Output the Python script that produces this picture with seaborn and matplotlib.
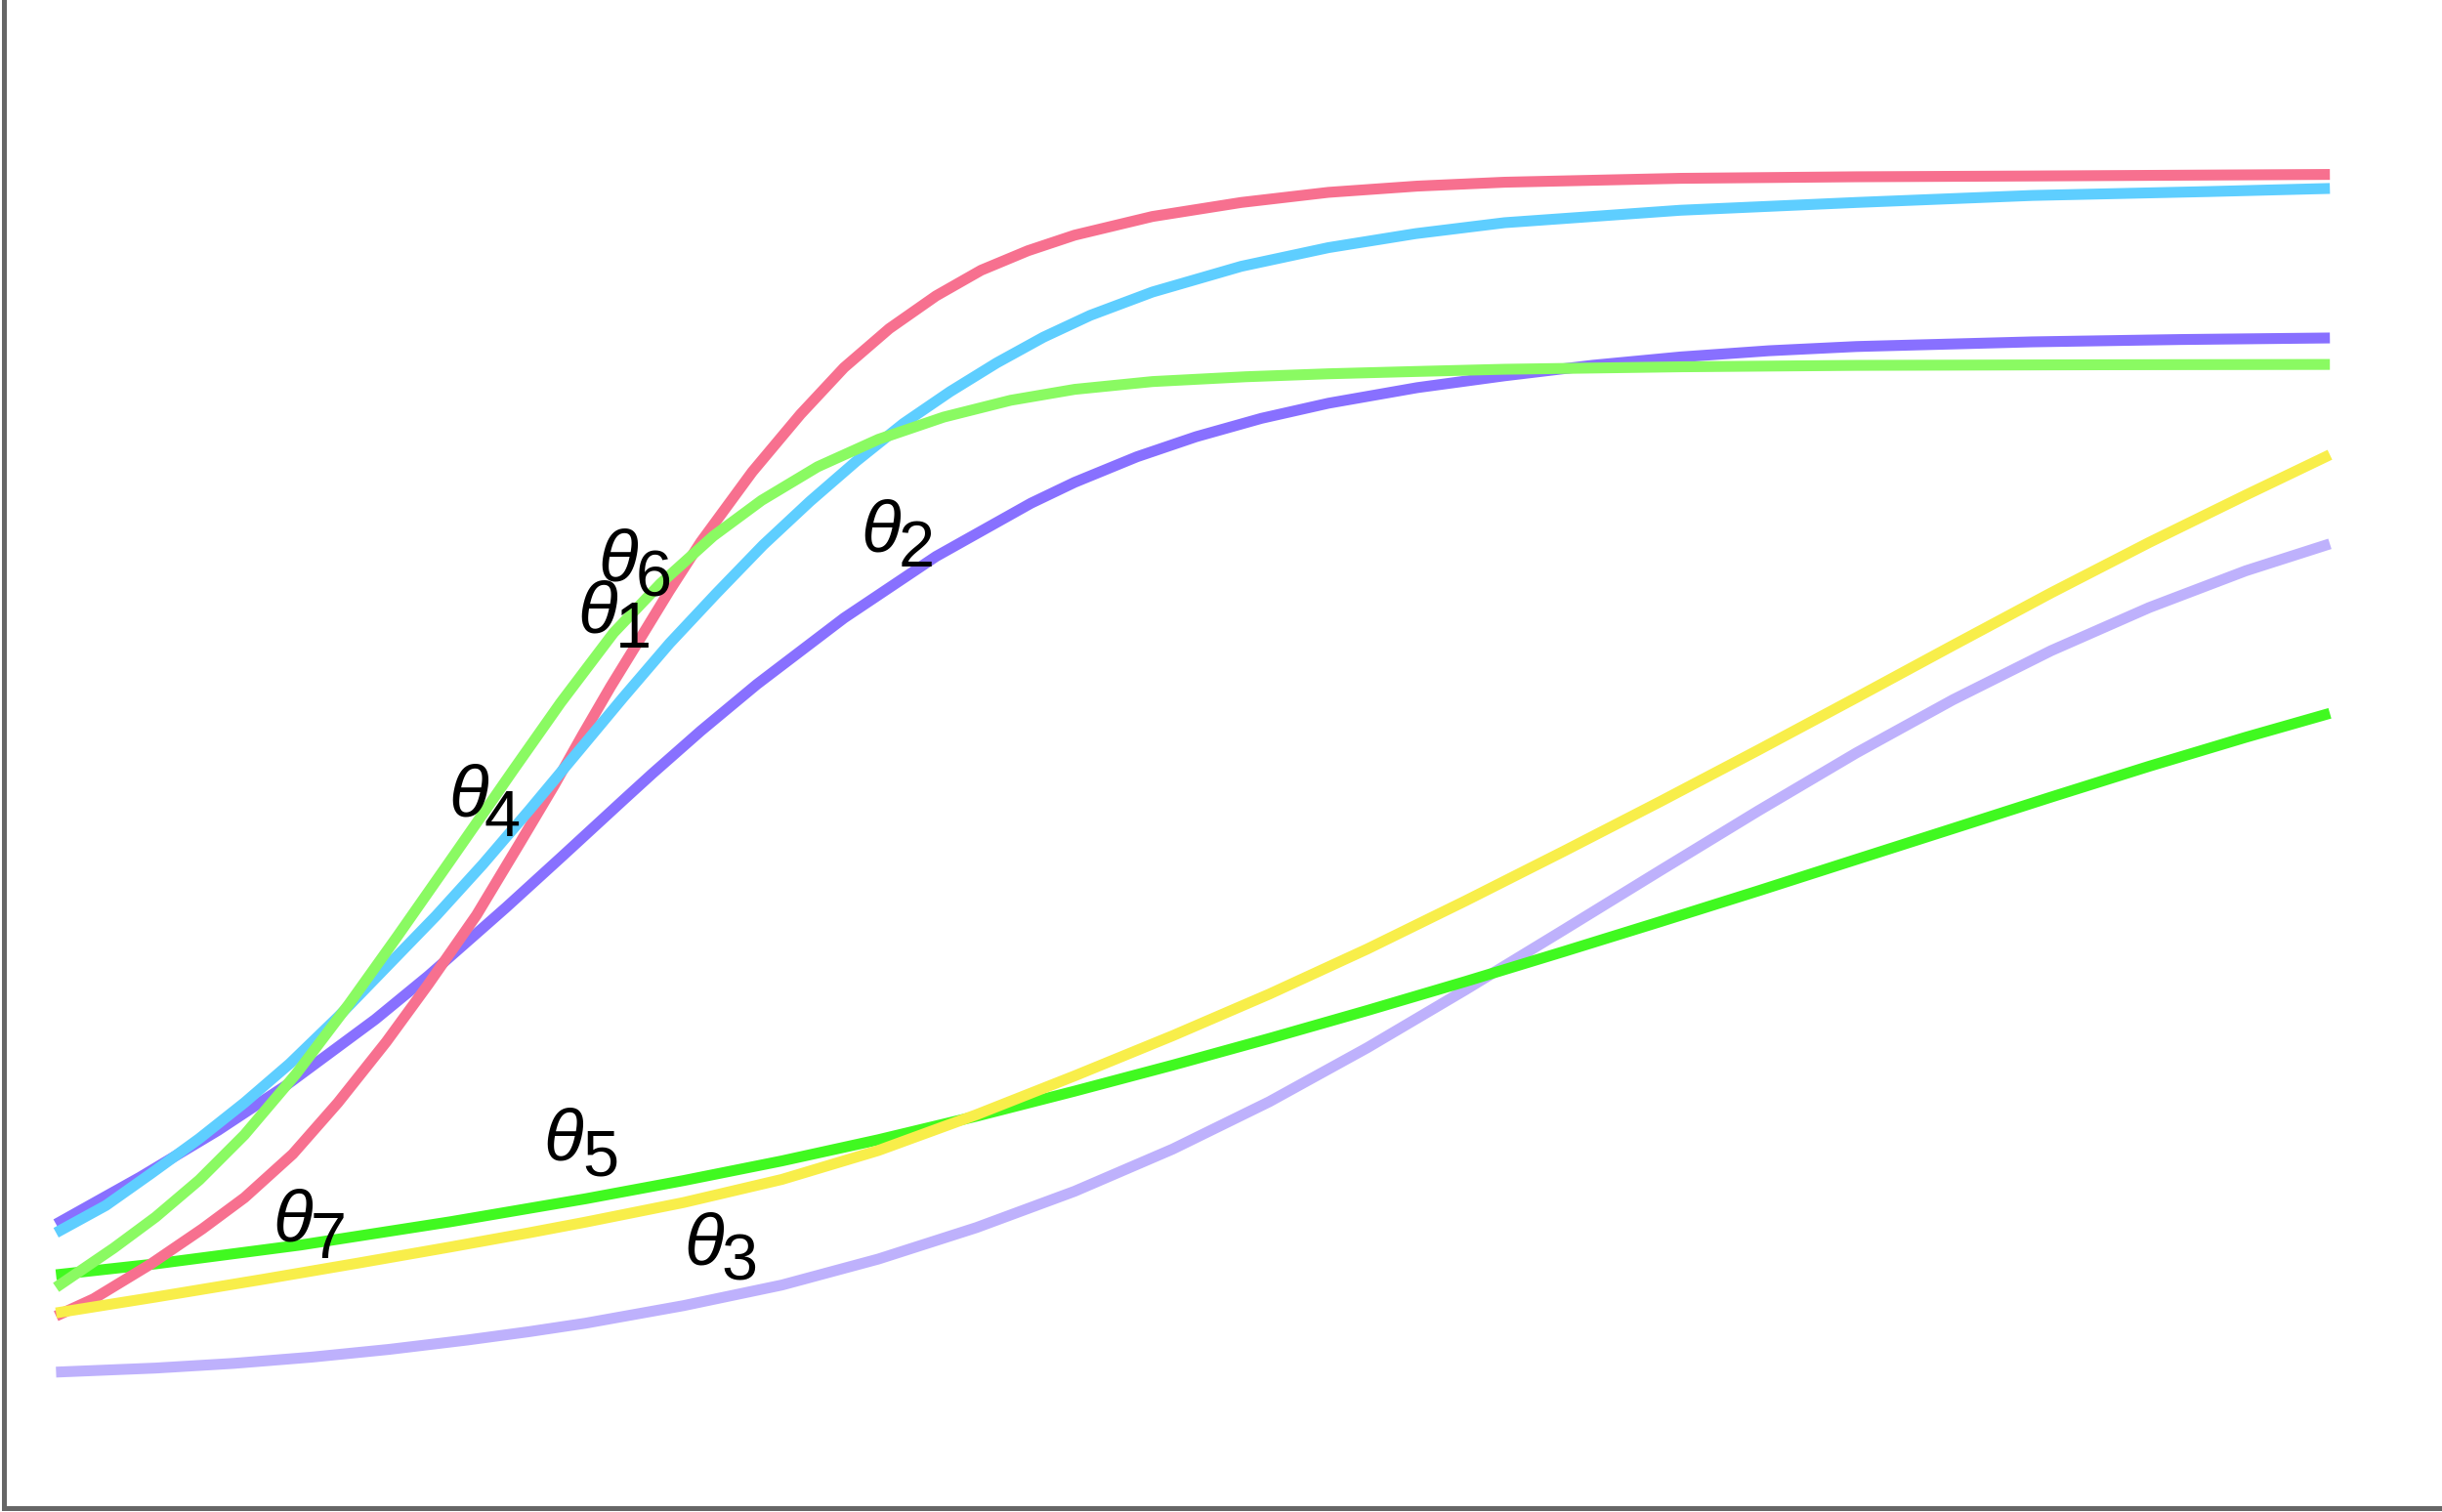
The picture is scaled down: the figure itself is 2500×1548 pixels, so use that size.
import matplotlib
matplotlib.use("Agg")
import matplotlib.pyplot as plt
import seaborn as sns
import pandas as pd

# ---- data (arbitrary units; x = horizontal position, y = height) ----
x1 = [36, 60, 97, 130, 157, 188, 217, 248, 275, 306, 334, 356, 374, 392, 408, 430, 450,
      483, 514, 542, 571, 601, 630, 660, 690, 740, 797, 853, 910, 966, 1079, 1192, 1305, 1400, 1496]
theta1 = [123, 134, 156.5, 179, 199, 227, 260, 299, 336, 380.5, 427, 464, 496, 527, 553, 589, 620,
          665, 702, 732, 757, 778, 794.5, 807, 817, 829, 838, 844.5, 848.5, 851, 853.5, 854.5, 855, 855.5, 856]

x2 = [36, 90, 140, 183, 241, 275, 325, 361, 401, 419, 450, 486, 542, 601, 662, 690, 730, 768,
      810, 853, 910, 966, 1023, 1079, 1136, 1192, 1305, 1400, 1496]
theta2 = [182, 212.2, 242.2, 270.6, 313.5, 341.4, 385.4, 418.2, 455, 471.4, 498.7, 528.6, 571.2, 610.7,
          644.9, 658.3, 674.7, 687.6, 699.4, 709.1, 719.1, 726.7, 733.5, 738.8, 742.8, 745.5, 748.5, 750, 751]

x3 = [36, 100, 150, 200, 250, 300, 340, 376, 439, 502, 564, 627, 690, 753, 815, 878, 941,
      1004, 1066, 1129, 1192, 1254, 1317, 1380, 1442, 1496]
theta3 = [87, 89.6, 92.6, 96.6, 101.6, 107.6, 113, 118.4, 129.7, 142.9, 159.6, 179.8, 203.1, 230.2,
          260.6, 295.3, 332.5, 370.9, 409, 447.4, 484.6, 518.7, 550.2, 577.9, 601.5, 618.8]

x4 = [36, 73, 100, 128, 157, 190, 224, 255, 289, 300, 330, 360, 394, 424, 458, 489, 525, 564,
      606, 649, 690, 740, 800, 853, 910, 966, 1080, 1192, 1350, 1496]
theta4 = [141.4, 166.6, 186.6, 210.4, 239.4, 278.3, 323.2, 366.6, 415.2, 431, 474.2, 516.8, 561.7,
          593.2, 623.8, 646.7, 668.3, 685.9, 700.2, 711, 718, 723, 726.1, 728, 729.5, 730.9, 732.5,
          733.4, 733.8, 734]

x5 = [36, 100, 193, 289, 376, 439, 502, 564, 627, 690, 753, 815, 878, 941, 1004, 1066, 1129,
      1192, 1254, 1317, 1380, 1442, 1496]
theta5 = [149.5, 156.5, 168.6, 183.5, 198.3, 210, 222.6, 236.2, 251.3, 267.4, 284.1, 301.2, 319.2,
          337.8, 357, 376.2, 396, 416.2, 436, 456.2, 476, 494.6, 510]

x6 = [36, 68, 97, 128, 157, 186, 217, 248, 280, 310, 340, 370, 400, 430, 460, 490, 520, 550,
      580, 610, 640, 670, 700, 740, 797, 853, 909, 966, 1079, 1192, 1305, 1418, 1496]
theta6 = [176.5, 194, 214.5, 237, 260, 285, 315, 347, 380, 413, 448, 484, 520, 555, 587, 618, 646,
          672, 696, 716.5, 735, 751.5, 765.5, 780.5, 797, 809, 818, 825, 833, 838, 842.5, 845, 847]

x7 = [36, 100, 169, 230, 289, 340, 376, 439, 502, 564, 627, 690, 753, 815, 878, 941, 1004,
      1066, 1129, 1192, 1254, 1317, 1380, 1442, 1496]
theta7 = [125, 135.2, 146.6, 157, 167.3, 176.5, 183.3, 195.9, 210.7, 229.3, 252.3, 277.2, 303,
          329.7, 358.7, 389.6, 421.4, 453.3, 486.4, 520.1, 553.6, 587.3, 619.7, 650.1, 676]

series = {"θ1": (x1, theta1), "θ2": (x2, theta2), "θ3": (x3, theta3), "θ4": (x4, theta4),
          "θ5": (x5, theta5), "θ6": (x6, theta6), "θ7": (x7, theta7)}
colors = {"θ1": "#F7708F", "θ2": "#8870FF", "θ3": "#BEB1FC", "θ4": "#8AFA62",
          "θ5": "#40F920", "θ6": "#5ECEFF", "θ7": "#F8EE4A"}
draw_order = ["θ3", "θ5", "θ2", "θ1", "θ7", "θ6", "θ4"]

# curve labels: subscript digit, theta anchor (left, baseline), digit anchor (left, baseline)
label_names = ["6", "1", "2", "4", "5", "7", "3"]
label_theta_x = [384, 371, 553, 288, 349, 175, 439]
label_theta_y = [595, 562, 614, 444, 223, 171, 156]
label_sub_x = [408, 395, 577, 311, 374, 199, 463]
label_sub_y = [585, 552, 604, 431, 213, 160, 146]

rows = []
for name in draw_order:
    xs, ys = series[name]
    for xv, yv in zip(xs, ys):
        rows.append({"x": xv, "y": yv, "curve": name})
df = pd.DataFrame(rows)

sns.set_style("white")
plt.rcParams["font.family"] = ["Liberation Sans", "DejaVu Sans"]

fig = plt.figure(figsize=(25, 15.48), dpi=100)
ax = fig.add_axes([3.5 / 2500, 4.5 / 1548, 1 - 3.5 / 2500, 1 - 4.5 / 1548])

sns.lineplot(data=df, x="x", y="y", hue="curve", hue_order=draw_order,
             palette=colors, legend=False, ax=ax, sort=False,
             estimator=None, linewidth=8.0)
for ln in ax.lines:
    ln.set_linewidth(8.0)
    ln.set_solid_capstyle("butt")
    ln.set_solid_joinstyle("round")

ax.set_xlim(2.2, 1568)
ax.set_ylim(0, 968)
ax.set_xticks([])
ax.set_yticks([])
ax.set_xlabel("")
ax.set_ylabel("")
for side in ["top", "right"]:
    ax.spines[side].set_visible(False)
for side in ["left", "bottom"]:
    ax.spines[side].set_color("#666666")
    ax.spines[side].set_linewidth(3.6)

for n, tx, ty, sx, sy in zip(label_names, label_theta_x, label_theta_y,
                             label_sub_x, label_sub_y):
    ax.text(tx, ty, "θ", fontsize=54, fontstyle="italic", color="black",
            ha="left", va="baseline")
    ax.text(sx, sy, n, fontsize=48, color="black", ha="left", va="baseline")

fig.savefig("out.png", dpi=100, facecolor="white")
